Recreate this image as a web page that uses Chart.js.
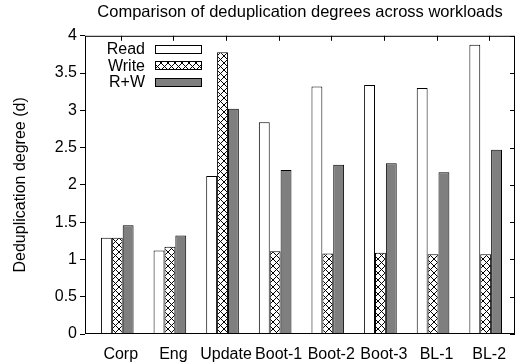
<!DOCTYPE html>
<html lang="en">
<head>
<meta charset="UTF-8">
<title>Deduplication degrees</title>
<style>
  body { margin: 0; background: #fff; }
  .chartBox { width: 515px; height: 362px; }
</style>
</head>
<body>
<div class="chartBox"><canvas id="myChart"></canvas></div>
<script src="https://cdn.jsdelivr.net/npm/chart.js"></script>
<script>
// data
const workloads = ['Corp', 'Eng', 'Update', 'Boot-1', 'Boot-2', 'Boot-3', 'BL-1', 'BL-2'];
const readData  = [1.29, 1.12, 2.12, 2.84, 3.32, 3.34, 3.30, 3.88];
const writeData = [1.29, 1.17, 3.78, 1.11, 1.08, 1.09, 1.07, 1.07];
const rwData    = [1.46, 1.32, 3.02, 2.20, 2.27, 2.29, 2.17, 2.47];
const yTicks = [0, 0.5, 1, 1.5, 2, 2.5, 3, 3.5, 4];

const FONT = "'Liberation Sans', Arial, sans-serif";
Chart.defaults.font.family = FONT;
Chart.defaults.font.size = 16;
Chart.defaults.color = '#000';

// x range so that labels sit where the original put them
const X_MIN = -0.679, X_MAX = 7.491;
const BAR_SHIFT = 0.066; // bar groups sit a little left of the tick

function crossHatch() {
  const n = 7;
  const c = document.createElement('canvas');
  c.width = n; c.height = n;
  const g = c.getContext('2d');
  g.fillStyle = '#fff';
  g.fillRect(0, 0, n, n);
  g.fillStyle = '#000';
  for (let i = 0; i < n; i++) {
    g.fillRect(i, i, 1, 1);
    g.fillRect(n - 1 - i, i, 1, 1);
  }
  return g.createPattern(c, 'repeat');
}

const toPoints = arr => arr.map((v, i) => ({ x: i, y: v }));

// frame + inward ticks on top/right (gnuplot style)
const framePlugin = {
  id: 'frame',
  afterDatasetsDraw(chart) {
    const { ctx, chartArea: a, scales } = chart;
    ctx.save();
    ctx.strokeStyle = '#000';
    ctx.lineWidth = 1;
    ctx.strokeRect(a.left + 0.5, a.top + 0.5, a.right - a.left - 1, a.bottom - a.top - 1);
    ctx.beginPath();
    scales.x.ticks.forEach(t => {
      const px = Math.round(scales.x.getPixelForValue(t.value)) + 0.5;
      ctx.moveTo(px, a.top);
      ctx.lineTo(px, a.top + 5);
    });
    scales.y.ticks.forEach(t => {
      const py = Math.round(scales.y.getPixelForValue(t.value)) + 0.5;
      ctx.moveTo(a.right, py);
      ctx.lineTo(a.right - 5, py);
    });
    ctx.stroke();
    ctx.restore();
  }
};

// legend inside the plot: label on the left, long swatch on the right
const boxLegend = {
  id: 'boxLegend',
  afterDraw(chart) {
    const { ctx, chartArea: a } = chart;
    ctx.save();
    ctx.font = '16px ' + FONT;
    ctx.textAlign = 'right';
    ctx.textBaseline = 'middle';
    ctx.lineWidth = 1;
    ctx.strokeStyle = '#000';
    chart.data.datasets.forEach((ds, i) => {
      const y = a.top + 14 + i * 16.5;
      ctx.fillStyle = '#000';
      ctx.fillText(ds.label, a.left + 60, y);
      const bx = a.left + 70, by = Math.round(y - 5);
      ctx.fillStyle = ds.backgroundColor;
      ctx.fillRect(bx, by, 47, 9);
      ctx.strokeRect(bx + 0.5, by + 0.5, 46, 8);
    });
    ctx.restore();
  }
};

const data = {
  datasets: [
    { label: 'Read', data: toPoints(readData), backgroundColor: '#fff', borderColor: '#000', borderWidth: 1, xAxisID: 'xb' },
    { label: 'Write', data: toPoints(writeData), backgroundColor: crossHatch(), borderColor: '#000', borderWidth: 1, xAxisID: 'xb' },
    { label: 'R+W', data: toPoints(rwData), backgroundColor: '#7f7f7f', borderColor: '#000', borderWidth: 1, xAxisID: 'xb' }
  ]
};

const config = {
  type: 'bar',
  data,
  options: {
    responsive: true,
    maintainAspectRatio: false,
    animation: false,
    layout: { padding: { left: 0, top: 0, right: -3, bottom: 0 } },
    datasets: { bar: { categoryPercentage: 0.62, barPercentage: 1 } },
    scales: {
      x: {
        type: 'linear',
        position: 'bottom',
        offset: false,
        min: X_MIN,
        max: X_MAX,
        grid: { display: false, offset: false },
        border: { display: false },
        afterBuildTicks: s => { s.ticks = workloads.map((_, i) => ({ value: i })); },
        ticks: { callback: v => workloads[v], autoSkip: false, maxRotation: 0, padding: 3 },
        afterFit: s => { s.height = 28; }
      },
      xb: {
        type: 'linear',
        position: 'bottom',
        display: false,
        offset: false,
        grid: { offset: false },
        min: X_MIN + BAR_SHIFT,
        max: X_MAX + BAR_SHIFT
      },
      y: {
        min: 0,
        max: 4,
        afterBuildTicks: s => { s.ticks = yTicks.map(v => ({ value: v })); },
        ticks: { padding: 3, callback: v => String(v) },
        grid: { drawOnChartArea: false, tickLength: 5, color: '#000' },
        border: { display: false },
        title: { display: true, text: 'Deduplication degree (d)', padding: { top: 11, bottom: 0 } },
        afterFit: s => { s.width = 85; }
      }
    },
    plugins: {
      legend: { display: false },
      tooltip: { enabled: false },
      title: {
        display: true,
        fullSize: false,
        text: 'Comparison of deduplication degrees across workloads',
        font: { size: 16.5, weight: 'normal' },
        color: '#000',
        padding: { top: 3, bottom: 13 }
      }
    }
  },
  plugins: [framePlugin, boxLegend]
};

const myChart = new Chart(document.getElementById('myChart'), config);
</script>
</body>
</html>
